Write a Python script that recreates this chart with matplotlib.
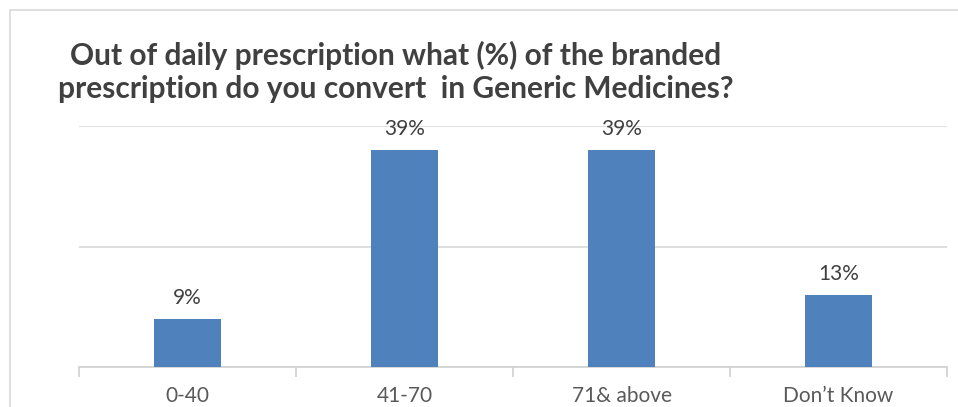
import matplotlib
matplotlib.use("Agg")
import matplotlib.pyplot as plt
from matplotlib.patches import Rectangle

# data: answers counted per group, labels show share of total
categories = ["0-40", "41-70", "71& above", "Don\u2019t Know"]
counts = [2, 9, 9, 3]
pct_labels = ["9%", "39%", "39%", "13%"]

title = ("Out of daily prescription what (%) of the branded\n"
         "prescription do you convert  in Generic Medicines?")

plt.rcParams["font.family"] = ["Lato", "DejaVu Sans"]

fig = plt.figure(figsize=(9.58, 4.07), dpi=100)

# chart frame, cut off at the right and bottom like the original
fig.patches.append(Rectangle((10 / 958, -0.1), 1.2, 1 - 10 / 407 + 0.1,
                             transform=fig.transFigure, fill=False,
                             edgecolor="#d9d9d9", lw=1.2))

ax = fig.add_axes([79 / 958, 40 / 407, 868 / 958, 241 / 407])
x = range(len(categories))
bars = ax.bar(x, counts, width=0.31, color="#4f81bd", zorder=3)

ax.set_xlim(-0.5, len(categories) - 0.5)
ax.set_ylim(0, 10)
ax.set_yticks([0, 5, 10])
ax.yaxis.grid(True, color="#d9d9d9", lw=1.2, zorder=0)
ax.tick_params(axis="y", left=False, labelleft=False)

for s in ["left", "right", "top"]:
    ax.spines[s].set_visible(False)
ax.spines["bottom"].set_color("#d0d0d0")
ax.spines["bottom"].set_linewidth(1.2)

ax.set_xticks([i - 0.5 for i in range(len(categories) + 1)], minor=False)
ax.set_xticklabels([])
ax.set_xticks(list(x), minor=True)
ax.set_xticklabels(categories, minor=True)
ax.tick_params(axis="x", which="major", length=7, color="#d0d0d0", width=1.2)
ax.tick_params(axis="x", which="minor", length=0, pad=13.5,
               labelsize=15, labelcolor="#595959")

for b, lab in zip(bars, pct_labels):
    ax.annotate(lab, (b.get_x() + b.get_width() / 2, b.get_height()),
                xytext=(0, 8), textcoords="offset points",
                ha="center", va="bottom", fontsize=15, color="#404040")

fig.text(396 / 958, 1 - 72 / 407, title, ha="center", va="center",
         fontsize=21.5, fontweight="bold", color="#404040", linespacing=1.22)

fig.savefig("out.png", dpi=100)
